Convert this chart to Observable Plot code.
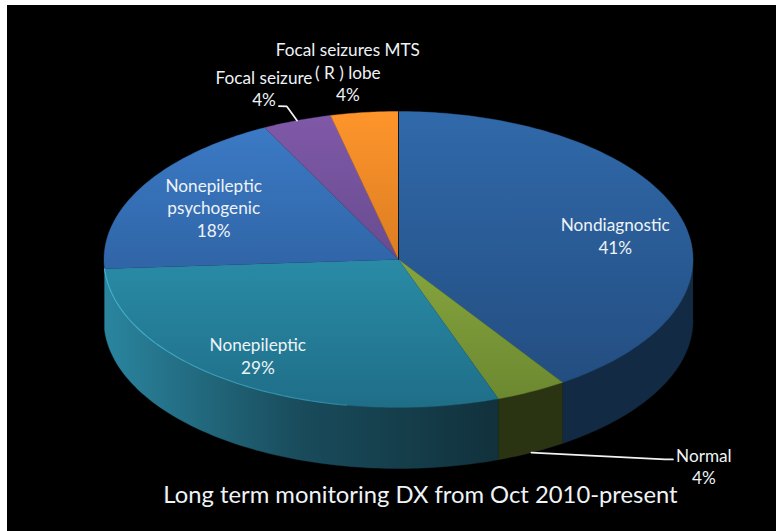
<!DOCTYPE html>
<html>
<head>
<meta charset="utf-8">
<script src="https://cdn.jsdelivr.net/npm/d3@7"></script>
<script src="https://cdn.jsdelivr.net/npm/@observablehq/plot@0.6"></script>
<style>
  html, body { margin: 0; padding: 0; background: #fff; overflow: hidden; }
  #chart { position: absolute; left: 7px; top: 5px; width: 769px; height: 526px; background: #000; }
  svg { display: block; background: #000 !important; }
</style>
</head>
<body>
<div id="chart"></div>
<script>
// Data
const categories = ["Nondiagnostic", "Normal", "Nonepileptic", "Nonepileptic psychogenic", "Focal seizure", "Focal seizures MTS ( R ) lobe"];
const values = [40.6, 3.9, 29.5, 18.5, 3.8, 3.7];
const labelTexts = ["Nondiagnostic\n41%", "Normal\n4%", "Nonepileptic\n29%", "Nonepileptic\npsychogenic\n18%", "Focal seizure\n4%", "Focal seizures MTS\n( R ) lobe\n4%"];
const chartTitle = "Long term monitoring DX from Oct 2010-present";

// Style
const topTop = ["#3069aa", "#a2c24a", "#34a8c4", "#3c7cc8", "#8059a8", "#fe952b"];
const topBottom = ["#224b7d", "#6a8730", "#1f6e88", "#25518a", "#4f3f78", "#b9651a"];
const sideStops = [
  ["#122a44", "#0f2239"],
  ["#2b3412", "#2b3412"],
  ["#11313c", "#194b5b", "#2a859f"],
  ["#2a859f", "#2a859f"],
  ["#000", "#000"],
  ["#000", "#000"]
];
const depth = 0.412;                 // side height, in units of the vertical radius
const labelDx = [-65, 172.5, 21, 71, -33, -16.5];
const labelDy = [19, 13, -28, 21, -33, -41];
const fontFamily = "Lato, 'Open Sans', sans-serif";

// Geometry derived from the values: clockwise from 12 o'clock
const total = d3.sum(values);
const ends = d3.cumsum(values).map(v => (v / total) * 360);
const slices = values.map((v, i) => {
  const a0 = i ? ends[i - 1] : 0, a1 = ends[i];
  return {i, a0, a1, mid: (a0 + a1) / 2};
});
const rad = d => (d * Math.PI) / 180;
const rim = (a, drop = 0) => ({u: Math.sin(rad(a)), v: -Math.cos(rad(a)) + drop});
const arc = (a0, a1, drop = 0) => {
  const n = Math.max(2, Math.ceil(a1 - a0) + 1);
  return d3.range(n).map(k => rim(a0 + ((a1 - a0) * k) / (n - 1), drop));
};
const topFace = s => [{u: 0, v: 0}, ...arc(s.a0, s.a1)];
const sideFace = s => {
  const a0 = Math.max(s.a0, 90), a1 = Math.min(s.a1, 270);
  return a1 > a0 ? [...arc(a0, a1), ...arc(a0, a1, depth).reverse()] : [];
};

// Gradient definitions
const W = 769, H = 526;
function defs() {
  const d = d3.create("svg:defs");
  slices.forEach(s => {
    const g = d.append("linearGradient").attr("id", `top${s.i}`).attr("gradientUnits", "userSpaceOnUse")
      .attr("x1", 0).attr("x2", 0).attr("y1", 106).attr("y2", 402);
    g.append("stop").attr("offset", 0).attr("stop-color", topTop[s.i]);
    g.append("stop").attr("offset", 1).attr("stop-color", topBottom[s.i]);
    const h = d.append("linearGradient").attr("id", `side${s.i}`).attr("gradientUnits", "userSpaceOnUse")
      .attr("x1", 492).attr("x2", 97).attr("y1", 0).attr("y2", 0);
    sideStops[s.i].forEach((c, k, arr) =>
      h.append("stop").attr("offset", k / (arr.length - 1)).attr("stop-color", c));
  });
  const r = d.append("linearGradient").attr("id", "rimGlow").attr("gradientUnits", "userSpaceOnUse")
    .attr("x1", 97).attr("x2", 400).attr("y1", 0).attr("y2", 0);
  r.append("stop").attr("offset", 0).attr("stop-color", "#45b4cf");
  r.append("stop").attr("offset", 0.7).attr("stop-color", "#2f8ba6");
  r.append("stop").attr("offset", 1).attr("stop-color", "#22758e");
  return d.node();
}

const textOpts = {fontFamily, fill: "#eef3f7", textAnchor: "middle", lineAnchor: "middle"};
const normalMid = rim(slices[1].mid, depth);
const focalMid = rim(slices[4].mid);
const leaders = [
  [normalMid, {u: 0.905, v: 1.351}, {u: 0.932, v: 1.351}],
  [focalMid, {u: -0.379, v: -1.034}, {u: -0.406, v: -1.036}]
];

const plot = Plot.plot({
  width: W,
  height: H,
  margin: 0,
  x: {domain: [-1, 1], range: [96.5, 685.5], axis: null},
  y: {domain: [-1, 1], range: [106, 402], axis: null},
  marks: [
    defs,
    ...slices.filter(s => sideFace(s).length && s.i < 3).map(s =>
      Plot.line(sideFace(s), {x: "u", y: "v", fill: `url(#side${s.i})`, stroke: `url(#side${s.i})`, strokeWidth: 0.4})),
    ...slices.map(s =>
      Plot.line(topFace(s), {x: "u", y: "v", fill: `url(#top${s.i})`, stroke: `url(#top${s.i})`, strokeWidth: 0.4})),
    Plot.line(arc(slices[2].a0 + 30, slices[2].a1), {x: "u", y: "v", stroke: "url(#rimGlow)", strokeWidth: 1.1}),
    Plot.line([{u: 0, v: 0}, rim(0)], {x: "u", y: "v", stroke: "#10141c", strokeWidth: 1}),
    ...leaders.map(pts => Plot.line(pts, {x: "u", y: "v", stroke: "#f2f2f2", strokeWidth: 1.7})),
    ...slices.map(s => {
      const anchor = rim(s.mid, s.i === 1 ? depth : 0);
      return Plot.text([anchor], {
        x: "u", y: "v", text: () => labelTexts[s.i],
        dx: labelDx[s.i], dy: labelDy[s.i],
        fontSize: 17.2, lineHeight: 1.31, ...textOpts
      });
    }),
    Plot.text([{u: 0.0747, v: 1.595}], {x: "u", y: "v", text: () => chartTitle, fontSize: 23.8, ...textOpts})
  ]
});
document.getElementById("chart").appendChild(plot);
</script>
</body>
</html>
